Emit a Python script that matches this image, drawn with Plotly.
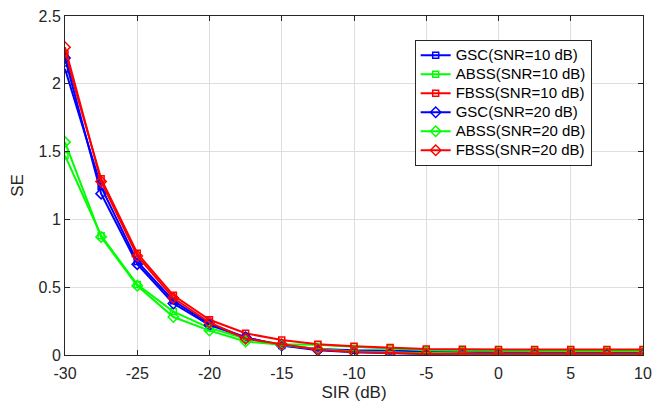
import plotly.graph_objects as go

# SIR sweep (dB)
sir_db = [-30, -27.5, -25, -22.5, -20, -17.5, -15, -12.5, -10, -7.5, -5, -2.5, 0, 2.5, 5, 7.5, 10]

# Spectral efficiency, SNR = 10 dB
gsc_snr10 = [2.11, 1.24, 0.69, 0.40, 0.23, 0.13, 0.07, 0.045, 0.035, 0.03, 0.025, 0.022, 0.02, 0.02, 0.02, 0.02, 0.02]
abss_snr10 = [1.47, 0.88, 0.52, 0.32, 0.20, 0.12, 0.08, 0.075, 0.06, 0.05, 0.035, 0.032, 0.03, 0.03, 0.03, 0.03, 0.03]
fbss_snr10 = [2.22, 1.30, 0.75, 0.44, 0.26, 0.16, 0.11, 0.08, 0.065, 0.055, 0.045, 0.042, 0.04, 0.04, 0.04, 0.04, 0.04]

# Spectral efficiency, SNR = 20 dB
gsc_snr20 = [2.19, 1.19, 0.67, 0.38, 0.22, 0.13, 0.07, 0.035, 0.02, 0.012, 0.008, 0.006, 0.005, 0.005, 0.005, 0.005, 0.005]
abss_snr20 = [1.57, 0.87, 0.51, 0.28, 0.18, 0.10, 0.075, 0.045, 0.025, 0.018, 0.012, 0.01, 0.01, 0.01, 0.01, 0.01, 0.01]
fbss_snr20 = [2.27, 1.28, 0.73, 0.42, 0.24, 0.12, 0.08, 0.04, 0.022, 0.015, 0.01, 0.01, 0.01, 0.01, 0.01, 0.01, 0.01]

x_ticks = [-30, -25, -20, -15, -10, -5, 0, 5, 10]
x_tick_labels = ["-30", "-25", "-20", "-15", "-10", "-5", "0", "5", "10"]
y_ticks = [0, 0.5, 1, 1.5, 2, 2.5]
y_tick_labels = ["0", "0.5", "1", "1.5", "2", "2.5"]

BLUE = "rgb(0,0,255)"
GREEN = "rgb(0,255,0)"
RED = "rgb(255,0,0)"
AX = "#262626"
FONT = "Liberation Sans, Arial, Helvetica, sans-serif"

series = [
    ("GSC(SNR=10 dB)", gsc_snr10, BLUE, "square-open", 6),
    ("ABSS(SNR=10 dB)", abss_snr10, GREEN, "square-open", 6),
    ("FBSS(SNR=10 dB)", fbss_snr10, RED, "square-open", 6),
    ("GSC(SNR=20 dB)", gsc_snr20, BLUE, "diamond-open", 8),
    ("ABSS(SNR=20 dB)", abss_snr20, GREEN, "diamond-open", 8),
    ("FBSS(SNR=20 dB)", fbss_snr20, RED, "diamond-open", 8),
]

fig = go.Figure()
for name, vals, color, sym, msize in series:
    fig.add_trace(go.Scatter(
        x=sir_db, y=vals, mode="lines+markers",
        # legend rows are kept compact while the label text stays large
        name=f"<span style='font-size:15px'>{name}</span>",
        line=dict(color=color, width=2),
        marker=dict(symbol=sym, size=msize, color=color, line=dict(color=color, width=1.5)),
    ))

axis_common = dict(
    showline=True, linecolor=AX, linewidth=1, mirror="ticks",
    ticks="inside", ticklen=5, tickcolor=AX, tickwidth=1,
    showgrid=True, gridcolor="#dedede", gridwidth=1,
    zeroline=False,
    tickfont=dict(family=FONT, size=16, color=AX),
    title_font=dict(family=FONT, size=17, color=AX),
)

fig.update_xaxes(range=[-30, 10], tickvals=x_ticks, ticktext=x_tick_labels,
                 ticklabelstandoff=4,
                 title_text="SIR (dB)", title_standoff=4, **axis_common)
fig.update_yaxes(range=[0, 2.5], tickvals=y_ticks, ticktext=y_tick_labels,
                 title_text="SE", title_standoff=10, **axis_common)

fig.update_layout(
    width=660, height=412,
    margin=dict(l=65, r=8, t=12, b=57),
    paper_bgcolor="white", plot_bgcolor="white",
    font=dict(family=FONT, color="black"),
    legend=dict(
        x=0.605, y=0.93, xanchor="left", yanchor="top",
        bgcolor="white", bordercolor=AX, borderwidth=1,
        font=dict(size=12.3, color="black", family=FONT),
        tracegroupgap=0, itemwidth=30,
    ),
    showlegend=True,
)

fig.write_html("out.html")
